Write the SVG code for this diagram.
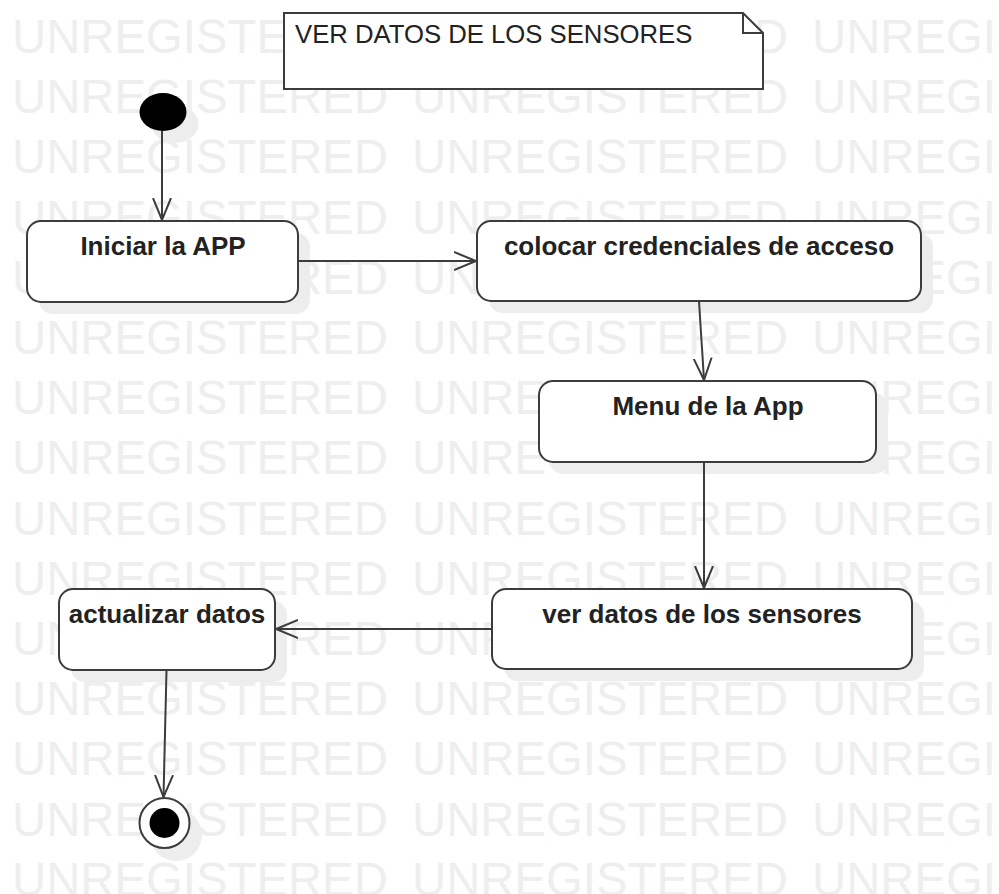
<svg xmlns="http://www.w3.org/2000/svg" width="999" height="894" viewBox="0 0 999 894">
<defs>
<style>
.wm{font-family:"Liberation Sans",Arial,sans-serif;font-size:47.3px;fill:#eeeeee}
.node{fill:#fff;stroke:#3c3c3c;stroke-width:2}
.shadow{fill:#ededed}
.lbl{font-family:"Liberation Sans",Arial,sans-serif;font-size:26px;font-weight:bold;fill:#222;text-anchor:middle}
.note{font-family:"Liberation Sans",Arial,sans-serif;font-size:25.7px;fill:#222}
.edge{fill:none;stroke:#3c3c3c;stroke-width:2}
</style>
<marker id="arr" viewBox="0 0 24 20" refX="22" refY="10" markerWidth="24" markerHeight="20" markerUnits="userSpaceOnUse" orient="auto">
<path d="M0,1 L22,10 L0,19" fill="none" stroke="#3c3c3c" stroke-width="2"/>
</marker>
</defs>
<rect width="999" height="894" fill="#fff"/>
<g id="watermark">
<text class="wm" y="53"><tspan x="12">UNREGISTERED</tspan><tspan x="412">UNREGISTERED</tspan><tspan x="812">UNREGISTERED</tspan></text>
<text class="wm" y="113.2"><tspan x="12">UNREGISTERED</tspan><tspan x="412">UNREGISTERED</tspan><tspan x="812">UNREGISTERED</tspan></text>
<text class="wm" y="173.4"><tspan x="12">UNREGISTERED</tspan><tspan x="412">UNREGISTERED</tspan><tspan x="812">UNREGISTERED</tspan></text>
<text class="wm" y="233.6"><tspan x="12">UNREGISTERED</tspan><tspan x="412">UNREGISTERED</tspan><tspan x="812">UNREGISTERED</tspan></text>
<text class="wm" y="293.8"><tspan x="12">UNREGISTERED</tspan><tspan x="412">UNREGISTERED</tspan><tspan x="812">UNREGISTERED</tspan></text>
<text class="wm" y="354"><tspan x="12">UNREGISTERED</tspan><tspan x="412">UNREGISTERED</tspan><tspan x="812">UNREGISTERED</tspan></text>
<text class="wm" y="414.2"><tspan x="12">UNREGISTERED</tspan><tspan x="412">UNREGISTERED</tspan><tspan x="812">UNREGISTERED</tspan></text>
<text class="wm" y="474.4"><tspan x="12">UNREGISTERED</tspan><tspan x="412">UNREGISTERED</tspan><tspan x="812">UNREGISTERED</tspan></text>
<text class="wm" y="534.6"><tspan x="12">UNREGISTERED</tspan><tspan x="412">UNREGISTERED</tspan><tspan x="812">UNREGISTERED</tspan></text>
<text class="wm" y="594.8"><tspan x="12">UNREGISTERED</tspan><tspan x="412">UNREGISTERED</tspan><tspan x="812">UNREGISTERED</tspan></text>
<text class="wm" y="655"><tspan x="12">UNREGISTERED</tspan><tspan x="412">UNREGISTERED</tspan><tspan x="812">UNREGISTERED</tspan></text>
<text class="wm" y="715.2"><tspan x="12">UNREGISTERED</tspan><tspan x="412">UNREGISTERED</tspan><tspan x="812">UNREGISTERED</tspan></text>
<text class="wm" y="775.4"><tspan x="12">UNREGISTERED</tspan><tspan x="412">UNREGISTERED</tspan><tspan x="812">UNREGISTERED</tspan></text>
<text class="wm" y="835.6"><tspan x="12">UNREGISTERED</tspan><tspan x="412">UNREGISTERED</tspan><tspan x="812">UNREGISTERED</tspan></text>
<text class="wm" y="895.8"><tspan x="12">UNREGISTERED</tspan><tspan x="412">UNREGISTERED</tspan><tspan x="812">UNREGISTERED</tspan></text>
</g>
<g id="note">
<path d="M284,13 L743,13 L763,33 L763,89 L284,89 Z" fill="#fff" stroke="#3c3c3c" stroke-width="2"/>
<path d="M743,13 L743,33 L763,33" fill="none" stroke="#3c3c3c" stroke-width="2"/>
<text class="note" x="295" y="43">VER DATOS DE LOS SENSORES</text>
</g>
<g id="start">
<ellipse class="shadow" cx="175" cy="124" rx="23.5" ry="19"/>
<ellipse cx="163" cy="112" rx="23.5" ry="19" fill="#000"/>
</g>
<g id="iniciar">
<rect class="shadow" x="39" y="233" width="271" height="81" rx="14"/>
<rect class="node" x="27" y="221" width="271" height="81" rx="14"/>
<text class="lbl" x="163" y="255">Iniciar la APP</text>
</g>
<g id="colocar">
<rect class="shadow" x="489" y="233" width="444" height="80" rx="14"/>
<rect class="node" x="477" y="221" width="444" height="80" rx="14"/>
<text class="lbl" x="699" y="255">colocar credenciales de acceso</text>
</g>
<g id="menu">
<rect class="shadow" x="551" y="393" width="337" height="81" rx="14"/>
<rect class="node" x="539" y="381" width="337" height="81" rx="14"/>
<text class="lbl" x="708" y="415">Menu de la App</text>
</g>
<g id="verdatos">
<rect class="shadow" x="504" y="601" width="420" height="80" rx="14"/>
<rect class="node" x="492" y="589" width="420" height="80" rx="14"/>
<text class="lbl" x="702" y="623">ver datos de los sensores</text>
</g>
<g id="actualizar">
<rect class="shadow" x="71" y="601" width="216" height="81" rx="14"/>
<rect class="node" x="59" y="589" width="216" height="81" rx="14"/>
<text class="lbl" x="167" y="623">actualizar datos</text>
</g>
<g id="end">
<circle class="shadow" cx="176" cy="835" r="26"/>
<circle cx="164.5" cy="823" r="25" fill="#fff" stroke="#3c3c3c" stroke-width="2"/>
<circle cx="164.5" cy="823" r="15" fill="#000"/>
</g>
<g id="connectors">
<path class="edge" d="M162,131 L162,220" marker-end="url(#arr)"/>
<path class="edge" d="M298,261 L476,261" marker-end="url(#arr)"/>
<path class="edge" d="M699,301 L704,380" marker-end="url(#arr)"/>
<path class="edge" d="M704,462 L704,588" marker-end="url(#arr)"/>
<path class="edge" d="M492,629 L276,629" marker-end="url(#arr)"/>
<path class="edge" d="M166.5,670 L163.5,797" marker-end="url(#arr)"/>
</g>
</svg>
